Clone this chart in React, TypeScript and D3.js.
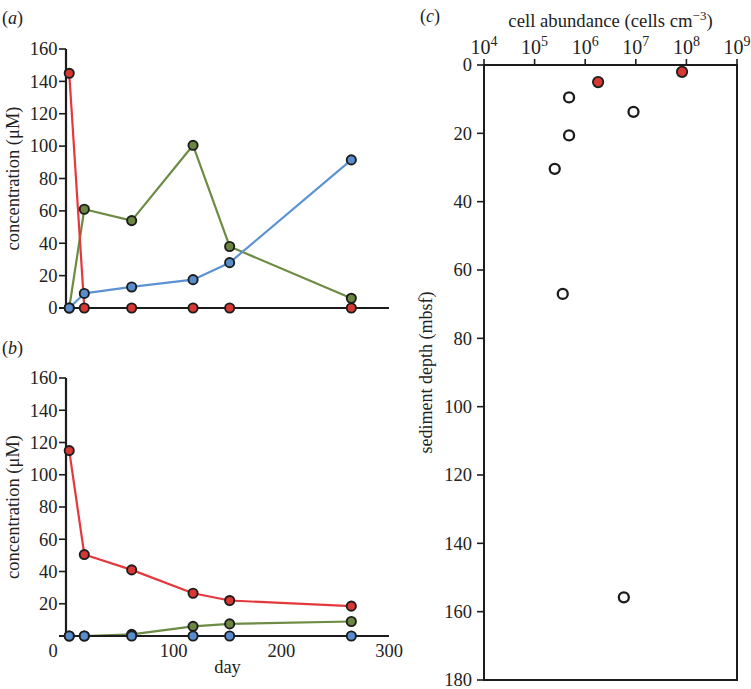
import React from 'react';
import * as d3 from 'd3';

// ---- data ----
const days = [3, 17, 61, 118, 152, 265];
const aRed = [145, 0, 0, 0, 0, 0];
const aGreen = [0, 61, 54, 100.5, 38, 6];
const aBlue = [0, 9, 13, 17.5, 28, 91.5];
const bRed = [115, 50.5, 41, 26.5, 22, 18.5];
const bGreen = [0, 0, 1, 6, 7.5, 9];
const bBlue = [0, 0, 0, 0, 0, 0];
const concTicks = [0, 20, 40, 60, 80, 100, 120, 140, 160];
const dayTicks = [0, 100, 200, 300];

const redCells = [8.2e7, 1.8e6];
const redDepths = [2, 5];
const openCells = [4.8e5, 9.0e6, 4.8e5, 2.5e5, 3.6e5, 5.8e6];
const openDepths = [9.5, 13.7, 20.6, 30.4, 67, 155.8];
const expTicks = [4, 5, 6, 7, 8, 9];
const depthTicks = [0, 20, 40, 60, 80, 100, 120, 140, 160, 180];

const FONT = "'Liberation Serif', 'DejaVu Serif', serif";
const INK = '#1c1c1c';
const TXT = '#222';
const COLORS = {
  red: { line: '#e4383c', fill: '#d83833' },
  green: { line: '#6c8b43', fill: '#6a8640' },
  blue: { line: '#5b92d3', fill: '#5a8dcc' },
};

const xA = d3.scaleLinear().domain([0, 300]).range([66, 389]);
const yA = d3.scaleLinear().domain([0, 160]).range([308, 49]);
const yB = d3.scaleLinear().domain([0, 160]).range([636, 378]);
const xC = d3.scaleLog().domain([1e4, 1e9]).range([484, 737]);
const yC = d3.scaleLinear().domain([0, 180]).range([65, 680]);

type Series = { vals: number[]; c: { line: string; fill: string } };

function Panel({ y, series, showZeroLabel }: { y: d3.ScaleLinear<number, number>; series: Series[]; showZeroLabel: boolean }) {
  const x0 = xA(0);
  return (
    <g>
      {series.map((s, i) => {
        const pts = days.map((d, j) => [xA(d), y(s.vals[j])] as [number, number]);
        const path = d3.line()(pts) || '';
        return <path key={i} d={path} fill="none" stroke={s.c.line} strokeWidth={2.2} strokeLinejoin="round" />;
      })}
      <line x1={x0} x2={x0} y1={y(160)} y2={y(0)} stroke={INK} strokeWidth={2.2} />
      <line x1={x0 - 7} x2={xA(300)} y1={y(0)} y2={y(0)} stroke={INK} strokeWidth={2} />
      {concTicks.map((t) => (
        <g key={t}>
          <line x1={x0 - 7} x2={x0} y1={y(t)} y2={y(t)} stroke={INK} strokeWidth={1.6} />
          {(t !== 0 || showZeroLabel) && (
            <text x={x0 - 8.5} y={y(t)} dy="0.34em" textAnchor="end" fontSize={18.5} fill={TXT}>
              {t}
            </text>
          )}
        </g>
      ))}
      {series.map((s, i) => (
        <g key={'m' + i}>
          {days.map((d, j) => (
            <circle key={j} cx={xA(d)} cy={y(s.vals[j])} r={4.6} fill={s.c.fill} stroke={INK} strokeWidth={1.9} />
          ))}
        </g>
      ))}
    </g>
  );
}

export default function App() {
  return (
    <svg width={751} height={689} style={{ position: 'absolute', left: 0, top: 0, background: '#fff', fontFamily: FONT }}>
      <rect width={751} height={689} fill="#fff" />
      <text x={2} y={24} fontSize={18} fill={TXT}>(<tspan fontStyle="italic">a</tspan>)</text>
      <text x={2} y={354} fontSize={18} fill={TXT}>(<tspan fontStyle="italic">b</tspan>)</text>
      <text x={420} y={22} fontSize={18} fill={TXT}>(<tspan fontStyle="italic">c</tspan>)</text>

      <Panel
        y={yA}
        showZeroLabel={true}
        series={[
          { vals: aGreen, c: COLORS.green },
          { vals: aBlue, c: COLORS.blue },
          { vals: aRed, c: COLORS.red },
        ]}
      />
      <text transform={`translate(19,${(yA(0) + yA(160)) / 2}) rotate(-90)`} textAnchor="middle" fontSize={18.5} fill={TXT}>
        concentration (μM)
      </text>

      <Panel
        y={yB}
        showZeroLabel={false}
        series={[
          { vals: bGreen, c: COLORS.green },
          { vals: bBlue, c: COLORS.blue },
          { vals: bRed, c: COLORS.red },
        ]}
      />
      <text transform={`translate(19,${(yB(0) + yB(160)) / 2}) rotate(-90)`} textAnchor="middle" fontSize={18.5} fill={TXT}>
        concentration (μM)
      </text>
      {dayTicks.map((t) => (
        <text key={t} x={xA(t) + (t === 0 ? -13 : 0)} y={657} textAnchor="middle" fontSize={18.5} fill={TXT}>
          {t}
        </text>
      ))}
      <text x={(xA(0) + xA(300)) / 2} y={673} textAnchor="middle" fontSize={18.5} fill={TXT}>
        day
      </text>

      <text x={(xC(1e4) + xC(1e9)) / 2} y={27} textAnchor="middle" fontSize={18.7} fill={TXT}>
        cell abundance (cells cm<tspan fontSize={13} dy={-7}>−3</tspan><tspan dy={7}>)</tspan>
      </text>
      <rect x={xC(1e4)} y={yC(0)} width={xC(1e9) - xC(1e4)} height={yC(180) - yC(0)} fill="none" stroke={INK} strokeWidth={2} />
      {expTicks.map((e) => (
        <g key={e}>
          <line x1={xC(Math.pow(10, e))} x2={xC(Math.pow(10, e))} y1={yC(0)} y2={yC(0) - 6} stroke={INK} strokeWidth={1.6} />
          <text x={xC(Math.pow(10, e))} y={54} textAnchor="middle" fontSize={20} fill={TXT}>
            10<tspan fontSize={14} dy={-8}>{e}</tspan>
          </text>
        </g>
      ))}
      {depthTicks.map((t) => (
        <g key={t}>
          <line x1={xC(1e4) - 7} x2={xC(1e4)} y1={yC(t)} y2={yC(t)} stroke={INK} strokeWidth={1.6} />
          <text x={xC(1e4) - 12} y={yC(t)} dy="0.34em" textAnchor="end" fontSize={18.5} fill={TXT}>
            {t}
          </text>
        </g>
      ))}
      <text transform={`translate(432,${(yC(0) + yC(180)) / 2}) rotate(-90)`} textAnchor="middle" fontSize={18} fill={TXT}>
        sediment depth (mbsf)
      </text>
      {openCells.map((c, i) => (
        <circle key={'o' + i} cx={xC(c)} cy={yC(openDepths[i])} r={5} fill="#fff" stroke={INK} strokeWidth={2.3} />
      ))}
      {redCells.map((c, i) => (
        <circle key={'r' + i} cx={xC(c)} cy={yC(redDepths[i])} r={5.2} fill={COLORS.red.fill} stroke={INK} strokeWidth={1.8} />
      ))}
    </svg>
  );
}
